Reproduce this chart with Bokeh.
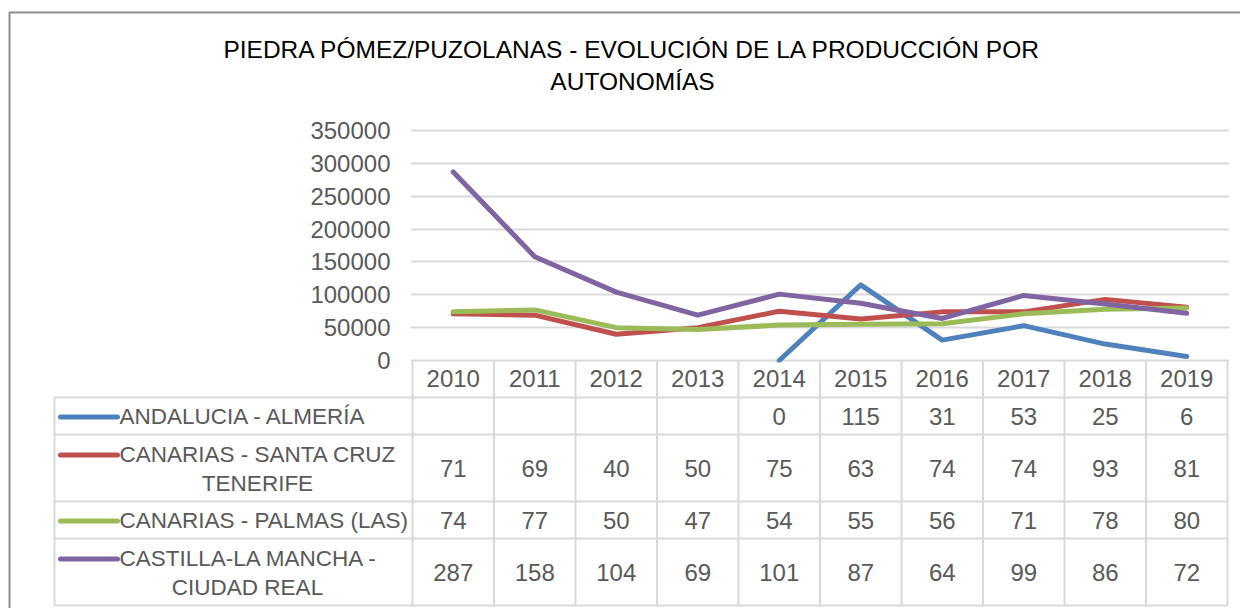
from bokeh.plotting import figure
from bokeh.models import Range1d, FixedTicker, NumeralTickFormatter
from bokeh.embed import file_html
from bokeh.resources import INLINE
from bokeh.core.properties import value

# ---------------- data ----------------
years = ["2010", "2011", "2012", "2013", "2014", "2015", "2016", "2017", "2018", "2019"]
series_names = [
    ["ANDALUCIA - ALMERÍA"],
    ["CANARIAS - SANTA CRUZ", "TENERIFE"],
    ["CANARIAS - PALMAS (LAS)"],
    ["CASTILLA-LA MANCHA -", "CIUDAD REAL"],
]
# production in thousands of tonnes (as shown in the data table)
andalucia_almeria = [None, None, None, None, 0, 115, 31, 53, 25, 6]
canarias_santa_cruz = [71, 69, 40, 50, 75, 63, 74, 74, 93, 81]
canarias_las_palmas = [74, 77, 50, 47, 54, 55, 56, 71, 78, 80]
castilla_ciudad_real = [287, 158, 104, 69, 101, 87, 64, 99, 86, 72]
unit = 1000
y_ticks = [0, 50000, 100000, 150000, 200000, 250000, 300000, 350000]
title_lines = ["PIEDRA PÓMEZ/PUZOLANAS - EVOLUCIÓN DE LA PRODUCCIÓN POR", "AUTONOMÍAS"]

series = [andalucia_almeria, canarias_santa_cruz, canarias_las_palmas, castilla_ciudad_real]
colors = ["#4f81bd", "#c0504d", "#9bbb59", "#8064a2"]

# ---------------- styles / layout ----------------
FONT = value("Liberation Sans")
FS = value("24px")
FS_TITLE = value("24.5px")
FS_LEG = value("22.5px")
TXT = "#595959"
GRID = "#d9d9d9"
W = 1240
H = 608
COL_W = 81.5
PAGE = 0              # page offset of the canvas
COL0 = 412            # page x of left edge of first category column
Y0_PX = 360           # page y of value 0
Y_TOP_PX = 130        # page y of top tick
PX = y_ticks[-1] / (Y0_PX - Y_TOP_PX)   # data units per pixel

n = len(years)
xs = list(range(n))


def X(page_x):
    return -0.5 + (page_x - COL0) / COL_W


def Y(page_y):
    return (Y0_PX - page_y) * PX


frame_left, frame_right = COL0 - 2, COL0 + n * COL_W + 2
frame_top, frame_bot = Y_TOP_PX - 3, Y0_PX + 2

p = figure(width=W, height=H, output_backend="svg", toolbar_location=None,
           x_range=Range1d(X(frame_left), X(frame_right)),
           y_range=Range1d(Y(frame_bot), Y(frame_top)),
           min_border_left=int(frame_left - PAGE), min_border_right=int(PAGE + W - frame_right),
           min_border_top=int(frame_top - PAGE), min_border_bottom=int(PAGE + H - frame_bot),
           x_axis_location=None)
p.outline_line_color = None
p.background_fill_color = "white"
p.border_fill_color = "white"
p.xgrid.visible = False
p.yaxis.ticker = FixedTicker(ticks=y_ticks)
p.yaxis.formatter = NumeralTickFormatter(format="0")
p.yaxis.axis_line_color = None
p.yaxis.major_tick_line_color = None
p.yaxis.minor_tick_line_color = None
p.yaxis.major_tick_out = 0
p.yaxis.major_tick_in = 0
p.yaxis.major_label_standoff = 20
p.yaxis.major_label_text_font = "Liberation Sans"
p.yaxis.major_label_text_font_size = "24px"
p.yaxis.major_label_text_color = TXT
p.ygrid.grid_line_color = GRID
p.ygrid.grid_line_width = 2

OV = dict(level="overlay")

# ---- category row (year labels + cell separators) ----
sep_x = [i - 0.5 for i in range(n + 1)]
row_edges = [397, 434, 501, 538, 605]       # page y of the table rules
p.segment(x0=sep_x, x1=sep_x, y0=[0] * len(sep_x), y1=[Y(row_edges[0])] * len(sep_x),
          line_color=GRID, line_width=2, **OV)
p.text(x=xs, y=[Y(378)] * n, text=years, text_font=FONT, text_font_size=FS,
       text_color=TXT, text_align="center", text_baseline="middle", **OV)

# ---- series lines ----
for vals, c in zip(series, colors):
    ys = [float("nan") if v is None else v * unit for v in vals]
    p.line(xs, ys, line_color=c, line_width=5, line_join="round", line_cap="round")

# ---- title ----
p.text(x=[X(632)] * len(title_lines), y=[Y(49 + 32 * i) for i in range(len(title_lines))],
       text=title_lines, text_font=FONT, text_font_size=FS_TITLE, text_color="#000000",
       text_align="center", text_baseline="middle", **OV)

# ---- outer chart border ----
p.line([X(9), X(9), X(1300)], [Y(700), Y(12), Y(12)],
       line_color="#8c8c8c", line_width=2, **OV)

# ---- data table ----
table_left = X(54)
p.segment(x0=[table_left] * len(row_edges), x1=[n - 0.5] * len(row_edges),
          y0=[Y(r) for r in row_edges], y1=[Y(r) for r in row_edges],
          line_color=GRID, line_width=2, **OV)
vx = [table_left] + sep_x
p.segment(x0=vx, x1=vx, y0=[Y(row_edges[0])] * len(vx), y1=[Y(row_edges[-1])] * len(vx),
          line_color=GRID, line_width=2, **OV)

second_line_center = [None, 257, None, 247]
for r, (names, vals, c) in enumerate(zip(series_names, series, colors)):
    top, bot = row_edges[r], row_edges[r + 1]
    mid = (top + bot) / 2
    if len(names) == 1:
        line_ys = [mid]
    else:
        line_ys = [mid - 14, mid + 15]
    # legend key
    p.line([X(60), X(117)], [Y(line_ys[0] + 1)] * 2, line_color=c, line_width=5,
           line_cap="round", **OV)
    p.text(x=[X(119)], y=[Y(line_ys[0])], text=[names[0]], text_font=FONT, text_font_size=FS_LEG,
           text_color=TXT, text_align="left", text_baseline="middle", **OV)
    if len(names) > 1:
        p.text(x=[X(second_line_center[r])], y=[Y(line_ys[1])], text=[names[1]], text_font=FONT,
               text_font_size=FS_LEG, text_color=TXT, text_align="center", text_baseline="middle", **OV)
    vx_ = [i for i, v in enumerate(vals) if v is not None]
    vt = [str(v) for v in vals if v is not None]
    p.text(x=vx_, y=[Y(mid)] * len(vx_), text=vt, text_font=FONT, text_font_size=FS,
           text_color=TXT, text_align="center", text_baseline="middle", **OV)

open("out.html", "w").write(file_html(p, INLINE))
